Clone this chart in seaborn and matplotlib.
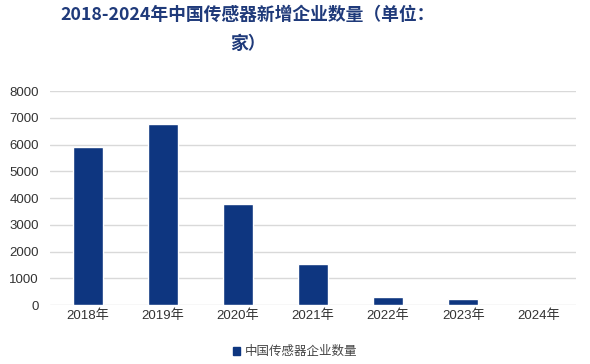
import seaborn as sns
import matplotlib.pyplot as plt
import pandas as pd
from matplotlib.patches import Patch

# data
years = ['2018年', '2019年', '2020年', '2021年', '2022年', '2023年', '2024年']
counts = [5900, 6750, 3780, 1520, 300, 220, 0]
series_name = '中国传感器企业数量'

df = pd.DataFrame({'year': years, 'count': counts, 'series': series_name})
bar_color = '#0E3680'

sns.set_style('white')
plt.rcParams['font.family'] = ['Liberation Sans', 'Noto Sans CJK SC']

fig = plt.figure(figsize=(5.9, 3.64), dpi=100)
ax = fig.add_axes([0.085, 0.162, 0.891, 0.588])

sns.barplot(data=df, x='year', y='count', hue='series', palette=[bar_color],
            width=0.4, saturation=1, ax=ax, legend=False)

ax.set_ylim(0, 8000)
ax.set_yticks(range(0, 8001, 1000))
ax.yaxis.grid(True, color='#D9D9D9', linewidth=1)
ax.set_axisbelow(True)
for s in ax.spines.values():
    s.set_visible(False)
ax.tick_params(axis='both', length=0, labelsize=9.5, colors='#333333')
ax.tick_params(axis='y', pad=8)
ax.set_xlabel('')
ax.set_ylabel('')

# title, two lines like the original
fig.text(0.42, 0.985, '2018-2024年中国传感器新增企业数量（单位：\n家）',
         ha='center', va='top', fontsize=12.8, fontweight='bold',
         color='#1F3A7A', linespacing=1.85,
         family=['Noto Sans CJK SC', 'DejaVu Sans'])

# legend at bottom
fig.legend(handles=[Patch(color=bar_color, label=series_name)],
           loc='lower center', bbox_to_anchor=(0.5, -0.015), frameon=False,
           prop={'family': ['Noto Sans CJK SC'], 'size': 9},
           handlelength=0.6, handleheight=0.6, handletextpad=0.4,
           labelcolor='#444444')

fig.savefig('out.png', dpi=100)
